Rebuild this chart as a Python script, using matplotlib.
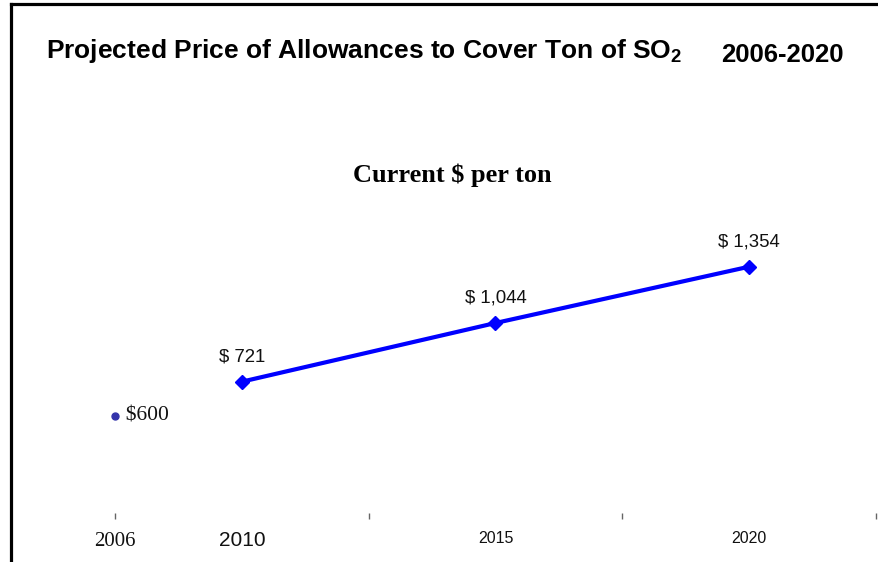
import matplotlib
matplotlib.use('Agg')
import matplotlib.pyplot as plt
import matplotlib.transforms as mtransforms
from matplotlib.lines import Line2D

# ---- data ----
years = ['2010', '2015', '2020']
prices = [721, 1044, 1354]
price_labels = ['$ 721', '$ 1,044', '$ 1,354']
base_year = '2006'
base_price = 600
base_label = '$600'
title = 'Projected Price of Allowances to Cover Ton of SO$_2$'
period = '2006-2020'
subtitle = 'Current $ per ton'

plt.rcParams['mathtext.fontset'] = 'custom'
plt.rcParams['mathtext.rm'] = 'Liberation Sans:bold'
plt.rcParams['mathtext.bf'] = 'Liberation Sans:bold'
plt.rcParams['mathtext.it'] = 'Liberation Sans:bold'
plt.rcParams['mathtext.default'] = 'bf'

W, H = 879, 562
fig = plt.figure(figsize=(W / 100, H / 100), dpi=100)

zero_px = 512.7
ppu = 0.1817
ymax = 1600
top_px = zero_px - ymax * ppu
ax = fig.add_axes([115 / W, 1 - zero_px / H, (876 - 115) / W, (zero_px - top_px) / H])
ax.set_xlim(-0.5, 2.5)
ax.set_ylim(0, ymax)
for s in ax.spines.values():
    s.set_visible(False)
ax.set_yticks([])

xs = list(range(len(years)))
ax.plot(xs, prices, color='#0000ff', lw=3, marker='D', ms=7, mfc='#0000ff', mec='#0000ff', zorder=3)
for xv, yv, lab in zip(xs, prices, price_labels):
    ax.annotate(lab, (xv, yv), xytext=(0, 18), textcoords='offset points',
                ha='center', va='center', fontsize=13.4, family='Liberation Sans', color='#111111')

# category boundary ticks
ax.set_xticks([-0.5, 0.5, 1.5, 2.5])
ax.set_xticklabels([])
ax.tick_params(axis='x', which='major', length=4, width=1, color='#666666', direction='out')
ax.set_xticks(xs, minor=True)
ax.set_xticklabels(years, minor=True, family='Liberation Sans', color='#111111')
ax.tick_params(axis='x', which='minor', length=0, pad=13)
mlabels = ax.get_xticklabels(minor=True)
mlabels[0].set_fontsize(15)
for t in mlabels[1:]:
    t.set_fontsize(11.5)

# 2006 base point (text-box style annotation)
off = mtransforms.ScaledTranslation(0, -12 / 100, fig.dpi_scale_trans)
ax.plot([-0.5], [base_price], 'o', color='#3333aa', ms=5, transform=ax.transData + off, clip_on=False)
ax.text(-0.5, base_price, '  ' + base_label, transform=ax.transData + off, ha='left', va='center',
        fontsize=15.5, family='Liberation Serif', color='#111111')
ax.text(-0.5, -0.1, base_year, transform=ax.get_xaxis_transform(), ha='center', va='center',
        fontsize=15, family='Liberation Serif', color='#111111', clip_on=False)

# titles
fig.text(46 / W, 1 - 58 / H, title, ha='left', va='baseline', fontsize=19,
         fontweight='bold', family='Liberation Sans')
fig.text(721 / W, 1 - 62 / H, period, ha='left', va='baseline', fontsize=18.5,
         fontweight='bold', family='Liberation Sans')
fig.text(452 / W, 1 - 175 / H, subtitle, ha='center', va='center', fontsize=19,
         fontweight='bold', family='Liberation Serif')

# frame lines (top and left)
fig.add_artist(Line2D([11 / W, 1], [1 - 4 / H, 1 - 4 / H], transform=fig.transFigure, color='black', lw=2.3))
fig.add_artist(Line2D([11 / W, 11 / W], [0, 1 - 4 / H], transform=fig.transFigure, color='black', lw=2.3))

fig.savefig('out.png', dpi=100)
